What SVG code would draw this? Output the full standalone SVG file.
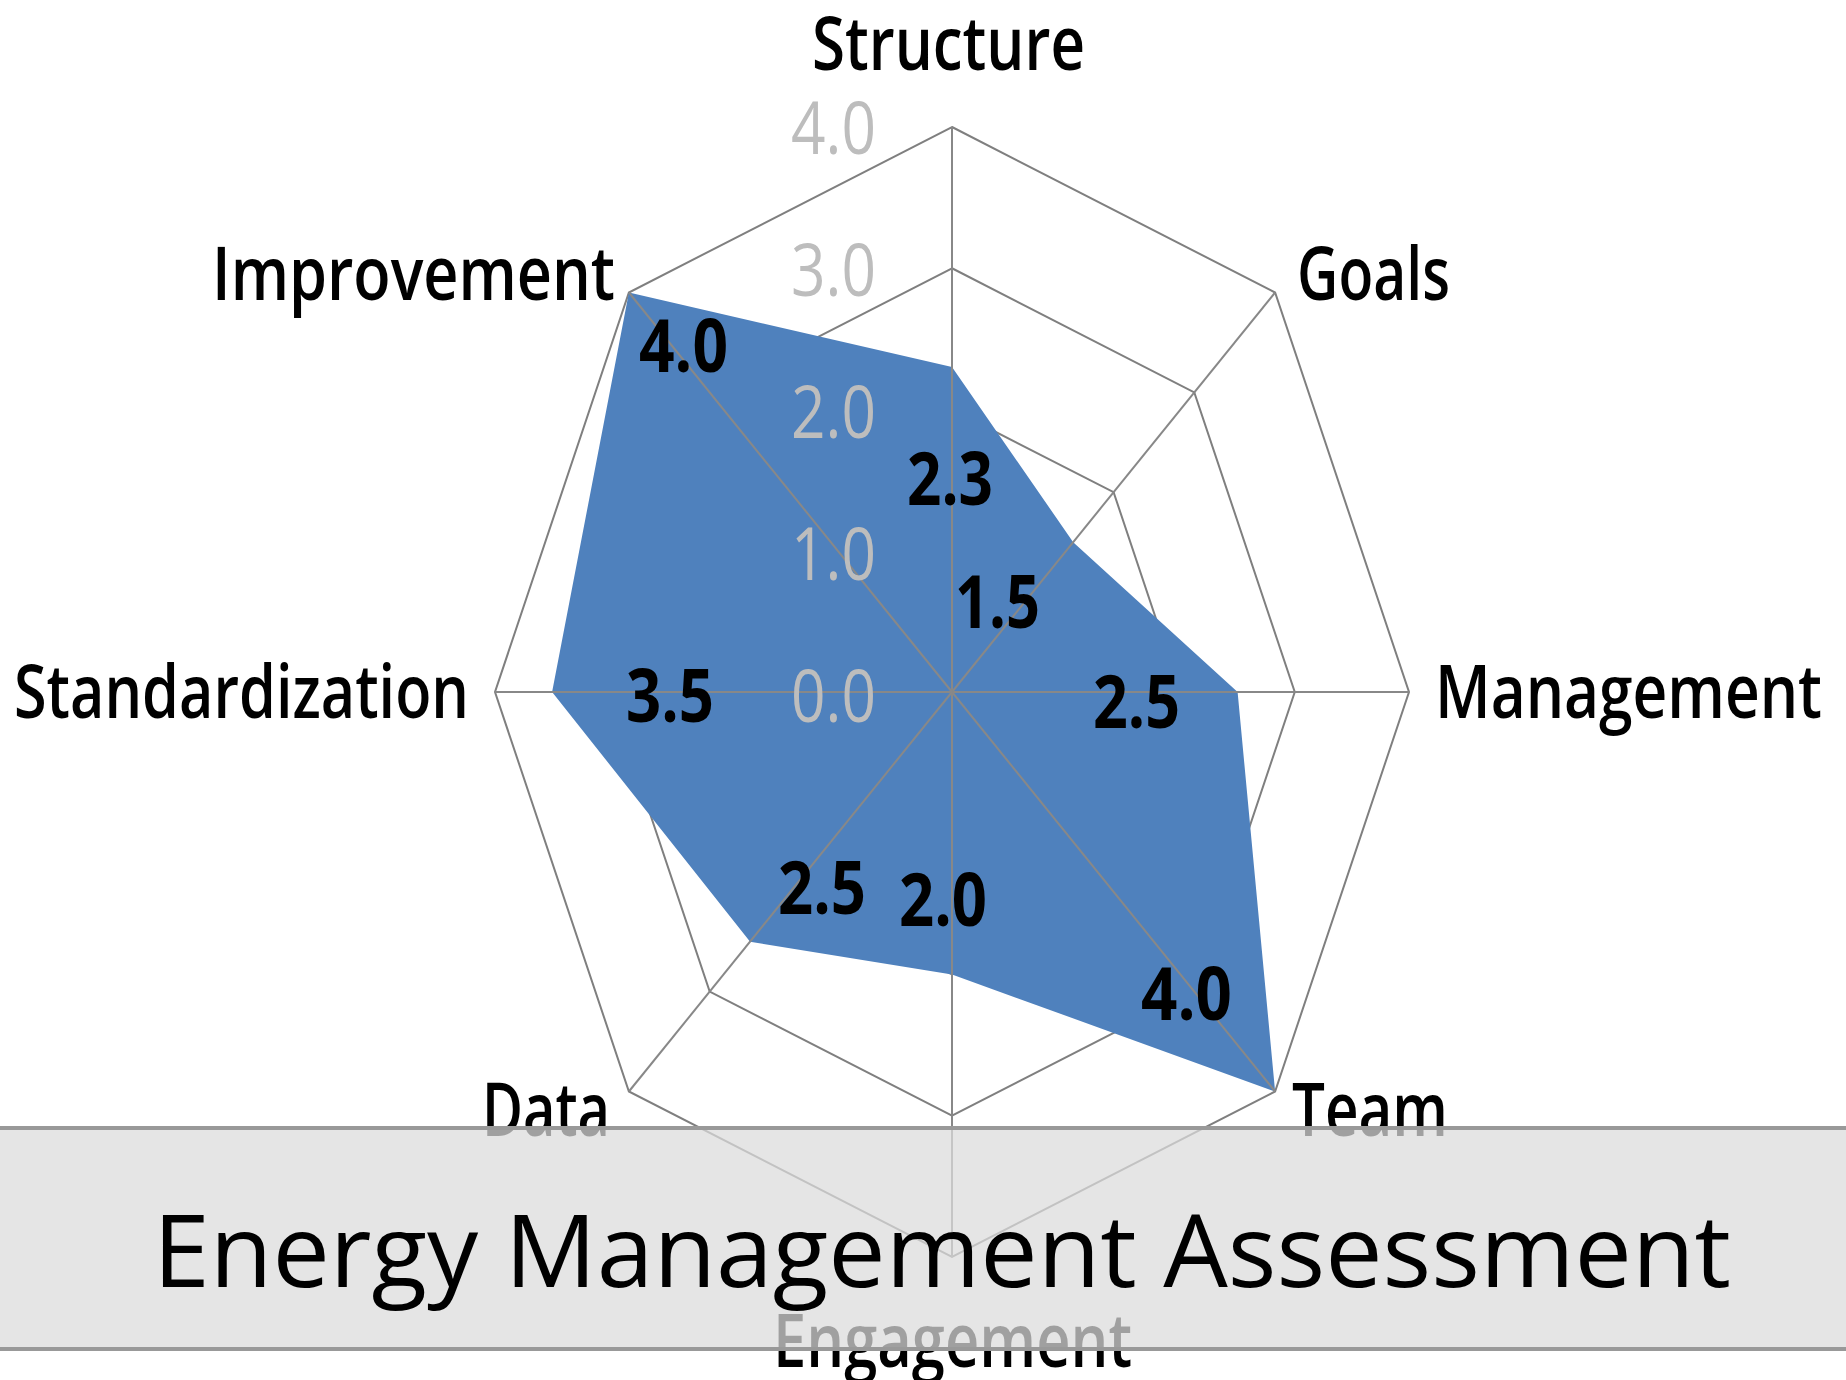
<svg xmlns="http://www.w3.org/2000/svg" width="1846" height="1380" viewBox="0 0 1846 1380">
<style>
.ring{fill:none;stroke:#7f7f7f;stroke-width:2}
.spoke{stroke:#888888;stroke-width:2}
.cat{font-family:"Open Sans","Liberation Sans",sans-serif;font-weight:600;font-size:74px;fill:#000}
.val{font-family:"Open Sans","Liberation Sans",sans-serif;font-weight:700;font-size:74px;fill:#000}
.tick{font-family:"Open Sans","Liberation Sans",sans-serif;font-weight:400;font-size:74px;fill:#bdbdbd}
.title{font-family:"Open Sans","Liberation Sans",sans-serif;font-weight:400;font-size:101px;fill:#000}
</style>
<rect width="1846" height="1380" fill="#ffffff"/>
<g id="grid">
<polygon class="ring" points="952,127 1275.1,292.5 1409,692 1275.1,1091.5 952,1257 628.9,1091.5 495,692 628.9,292.5"/>
<polygon class="ring" points="952,268.25 1194.3,392.4 1294.75,692 1194.3,991.6 952,1115.75 709.7,991.6 609.25,692 709.7,392.4"/>
<polygon class="ring" points="952,409.5 1113.6,492.2 1180.5,692 1113.6,891.8 952,974.5 790.4,891.8 723.5,692 790.4,492.2"/>
<polygon class="ring" points="952,550.75 1032.8,592.1 1066.25,692 1032.8,791.9 952,833.25 871.2,791.9 837.75,692 871.2,592.1"/>
</g>
<g id="series">
<polygon points="952,367.1 1073.2,542.2 1237.6,692 1275.1,1091.5 952,974.5 750.1,941.7 552.1,692 628.9,292.5" fill="#4f81bd"/>
</g>
<g id="connectors">
<line class="spoke" x1="952" y1="692" x2="952" y2="127"/>
<line class="spoke" x1="952" y1="692" x2="1275.1" y2="292.5"/>
<line class="spoke" x1="952" y1="692" x2="1409" y2="692"/>
<line class="spoke" x1="952" y1="692" x2="1275.1" y2="1091.5"/>
<line class="spoke" x1="952" y1="692" x2="952" y2="1257"/>
<line class="spoke" x1="952" y1="692" x2="628.9" y2="1091.5"/>
<line class="spoke" x1="952" y1="692" x2="495" y2="692"/>
<line class="spoke" x1="952" y1="692" x2="628.9" y2="292.5"/>
</g>
<g id="ticks">
<text class="tick" x="791" y="154" textLength="85" lengthAdjust="spacingAndGlyphs">4.0</text>
<text class="tick" x="791" y="296" textLength="85" lengthAdjust="spacingAndGlyphs">3.0</text>
<text class="tick" x="791" y="438" textLength="85" lengthAdjust="spacingAndGlyphs">2.0</text>
<text class="tick" x="791" y="580" textLength="85" lengthAdjust="spacingAndGlyphs">1.0</text>
<text class="tick" x="791" y="722" textLength="85" lengthAdjust="spacingAndGlyphs">0.0</text>
</g>
<g id="values">
<text class="val" x="639" y="372" textLength="89" lengthAdjust="spacingAndGlyphs">4.0</text>
<text class="val" x="907" y="505" textLength="86" lengthAdjust="spacingAndGlyphs">2.3</text>
<text class="val" x="955" y="628" textLength="85" lengthAdjust="spacingAndGlyphs">1.5</text>
<text class="val" x="1093" y="728" textLength="87" lengthAdjust="spacingAndGlyphs">2.5</text>
<text class="val" x="626" y="722" textLength="88" lengthAdjust="spacingAndGlyphs">3.5</text>
<text class="val" x="778" y="914" textLength="88" lengthAdjust="spacingAndGlyphs">2.5</text>
<text class="val" x="899" y="926" textLength="88" lengthAdjust="spacingAndGlyphs">2.0</text>
<text class="val" x="1141" y="1020" textLength="91" lengthAdjust="spacingAndGlyphs">4.0</text>
</g>
<g id="node-structure"><text class="cat" x="812" y="70" textLength="273" lengthAdjust="spacingAndGlyphs">Structure</text></g>
<g id="node-goals"><text class="cat" x="1297" y="300" textLength="153" lengthAdjust="spacingAndGlyphs">Goals</text></g>
<g id="node-management"><text class="cat" x="1435" y="718" textLength="387" lengthAdjust="spacingAndGlyphs">Management</text></g>
<g id="node-team"><text class="cat" x="1292" y="1136" textLength="156" lengthAdjust="spacingAndGlyphs">Team</text></g>
<g id="node-engagement"><text class="cat" x="773" y="1367" textLength="359" lengthAdjust="spacingAndGlyphs">Engagement</text></g>
<g id="node-data"><text class="cat" x="482" y="1136" textLength="128" lengthAdjust="spacingAndGlyphs">Data</text></g>
<g id="node-standardization"><text class="cat" x="14" y="718" textLength="455" lengthAdjust="spacingAndGlyphs">Standardization</text></g>
<g id="node-improvement"><text class="cat" x="212" y="300" textLength="403" lengthAdjust="spacingAndGlyphs">Improvement</text></g>
<g id="banner">
<rect x="0" y="1128" width="1846" height="221" fill="#dcdcdc" fill-opacity="0.73"/>
<line x1="0" y1="1128" x2="1846" y2="1128" stroke="#999999" stroke-width="4"/>
<line x1="0" y1="1349" x2="1846" y2="1349" stroke="#999999" stroke-width="4"/>
<text class="title" x="153" y="1287" textLength="1578" lengthAdjust="spacingAndGlyphs">Energy Management Assessment</text>
</g>
</svg>
